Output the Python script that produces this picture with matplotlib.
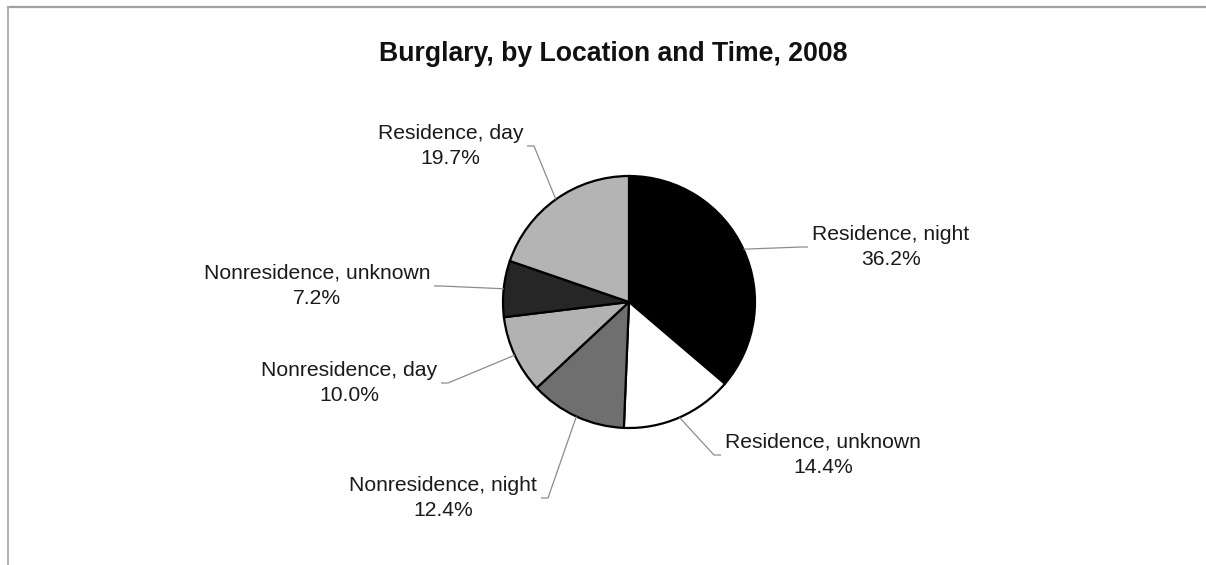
import numpy as np
import matplotlib as mpl
mpl.use('Agg')
import matplotlib.pyplot as plt

W, H = 1206, 565

labels = ['Residence, night', 'Residence, unknown', 'Nonresidence, night',
          'Nonresidence, day', 'Nonresidence, unknown', 'Residence, day']
shares = [36.2, 14.4, 12.4, 10.0, 7.2, 19.7]
colors = ['#000000', '#ffffff', '#6f6f6f', '#b2b2b2', '#262626', '#b4b4b4']

# label anchors in pixels from top-left: x of text edge, y of block middle, side
label_pos = [(812, 247, 'left'), (725, 455, 'left'), (537, 498, 'right'),
             (437, 383, 'right'), (430, 286, 'right'), (523, 146, 'right')]

plt.rcParams['font.family'] = ['Liberation Sans', 'DejaVu Sans']

fig = plt.figure(figsize=(W / 100, H / 100), dpi=100)
ax = fig.add_axes([0, 0, 1, 1])
ax.set_xlim(0, W)
ax.set_ylim(0, H)
ax.axis('off')

cx, cy, r = 629, H - 302, 126
wedges, _ = ax.pie(shares, colors=colors, startangle=90, counterclock=False,
                   center=(cx, cy), radius=r, normalize=True,
                   wedgeprops=dict(edgecolor='black', linewidth=1.6))
ax.set_xlim(0, W)
ax.set_ylim(0, H)
ax.set_aspect('equal')

for w, lab, val, (tx, ty, side) in zip(wedges, labels, shares, label_pos):
    mid = np.deg2rad((w.theta1 + w.theta2) / 2)
    ex, ey = cx + r * np.cos(mid), cy + r * np.sin(mid)
    y = H - ty
    sgn = 1 if side == 'left' else -1
    x_end = tx - sgn * 4
    x_elb = tx - sgn * 11
    ax.plot([ex, x_elb, x_end], [ey, y, y], color='#8c8c8c', lw=0.9,
            solid_capstyle='butt')
    ax.text(tx, y, f'{lab}\n{val:.1f}%', ha=side, va='center',
            multialignment='center', fontsize=15.2, linespacing=1.45,
            color='#1a1a1a')

ax.text(613, H - 61, 'Burglary, by Location and Time, 2008', ha='center',
        va='baseline', fontsize=19.2, fontweight='bold', color='#111111')

# frame lines top and left
ax.plot([8, W], [H - 7, H - 7], color='#a0a0a0', lw=1.6, clip_on=False)
ax.plot([8, 8], [H - 7, 0], color='#b0b0b0', lw=1.4, clip_on=False)

fig.savefig('out.png', dpi=100)
